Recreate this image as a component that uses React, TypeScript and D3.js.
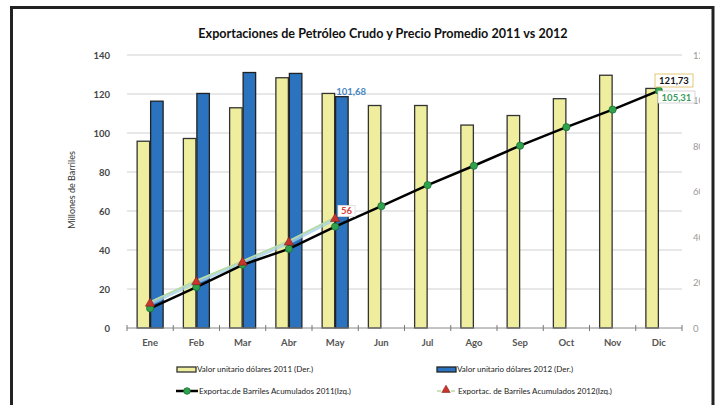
import React from "react";
import * as d3 from "d3";

const months = ["Ene", "Feb", "Mar", "Abr", "May", "Jun", "Jul", "Ago", "Sep", "Oct", "Nov", "Dic"];
const price2011 = [82.1, 83.3, 96.8, 110, 103.1, 97.8, 97.8, 89.2, 93.4, 100.8, 111.1, 105.31];
const price2012 = [99.7, 103.1, 112.3, 111.9, 101.68];
const cum2011 = [10.1, 21, 32.4, 40.6, 52, 62.5, 73.3, 83.2, 93.5, 103, 112, 121.73];
const cum2012 = [12.6, 23.6, 33.6, 43.9, 56];
const leftTicks = [0, 20, 40, 60, 80, 100, 120, 140];
const rightTicks = [0, 20, 40, 60, 80, 100, 120];

const title = "Exportaciones de Petróleo Crudo y Precio Promedio 2011 vs 2012";
const yTitle = "Millones de Barriles";
const legendLabels = [
  "Valor unitario dólares 2011 (Der.)",
  "Valor unitario dólares 2012 (Der.)",
  "Exportac.de Barriles Acumulados 2011(Izq.)",
  "Exportac. de Barriles Acumulados 2012(Izq.)",
];

const FONT = 'Lato, "Open Sans", sans-serif';

export default function App() {
  const W = 718, H = 405;
  const x = d3.scaleBand<string>().domain(months).range([127, 682]).padding(0);
  const yL = d3.scaleLinear().domain([0, 140]).range([328, 55]);
  const yR = d3.scaleLinear().domain([0, 120]).range([328, 55]);
  const cx = (m: string) => (x(m) as number) + x.bandwidth() / 2;
  const bw = 12.5;

  const line2011 = d3.line<number>().x((_, i) => cx(months[i])).y((d) => yL(d));
  const line2012 = d3.line<number>().x((_, i) => cx(months[i])).y((d) => yL(d));

  const tri = d3.symbol().type(d3.symbolTriangle).size(38)() as string;
  const triSmall = d3.symbol().type(d3.symbolTriangle).size(30)() as string;

  const may = 4;

  return (
    <svg width={W} height={H} style={{ position: "absolute", left: 0, top: 0, background: "#fff" }} fontFamily={FONT}>
      <defs>
        <clipPath id="rclip">
          <rect x={0} y={0} width={700} height={H} />
        </clipPath>
      </defs>
      <rect x={0} y={0} width={W} height={H} fill="#fff" />
      <path d={`M11.5,${H + 5} V7.5 H713 V${H + 5}`} fill="none" stroke="#222" strokeWidth={3} />

      <text x={383} y={38} textAnchor="middle" fontSize={12.6} fontWeight={700} fill="#111">{title}</text>

      {leftTicks.filter((t) => t > 0).map((t) => (
        <line key={"g" + t} x1={127} x2={682} y1={yL(t)} y2={yL(t)} stroke="#d0d0d0" strokeWidth={1} />
      ))}

      {leftTicks.map((t) => (
        <text key={"l" + t} x={110} y={yL(t) + 3.5} textAnchor="end" fontSize={9.5} fontWeight={700} fill="#444">{t}</text>
      ))}
      <g clipPath="url(#rclip)">
        {rightTicks.map((t) => (
          <text key={"r" + t} x={693} y={yR(t) + 3.5} textAnchor="start" fontSize={9.5} fill="#999">{t}</text>
        ))}
      </g>

      <text transform={`translate(75,190) rotate(-90)`} textAnchor="middle" fontSize={9} fill="#333">{yTitle}</text>

      {price2011.map((v, i) => (
        <rect key={"b1" + i} x={cx(months[i]) - 13} y={yR(v)} width={bw} height={yR(0) - yR(v)}
          fill="#eeee9e" stroke="#333" strokeWidth={1.3} />
      ))}
      {price2012.map((v, i) => (
        <rect key={"b2" + i} x={cx(months[i]) + 0.5} y={yR(v)} width={bw} height={yR(0) - yR(v)}
          fill="#2b73bf" stroke="#222" strokeWidth={1.3} />
      ))}

      <line x1={127} x2={682} y1={328} y2={328} stroke="#888" strokeWidth={1} />
      {d3.range(months.length + 1).map((i) => {
        const xx = 127 + i * x.bandwidth();
        return <line key={"t" + i} x1={xx} x2={xx} y1={325} y2={331} stroke="#777" strokeWidth={1} />;
      })}
      {months.map((m) => (
        <text key={"x" + m} x={cx(m)} y={346} textAnchor="middle" fontSize={9.5} fontWeight={700} fill="#555">{m}</text>
      ))}

      <path d={line2012(cum2012) as string} fill="none" stroke="#a6d3e8" strokeWidth={4} opacity={0.8} />
      <path d={line2012(cum2012) as string} transform="translate(0,-1.5)" fill="none" stroke="#b9dca0" strokeWidth={1.6} />

      <path d={line2011(cum2011) as string} fill="none" stroke="#000" strokeWidth={2.5} />
      {cum2011.map((v, i) => (
        <circle key={"c" + i} cx={cx(months[i])} cy={yL(v)} r={3.6} fill="#2fa24e" stroke="#1d6e33" strokeWidth={0.8} />
      ))}
      {cum2012.map((v, i) => (
        <path key={"tr" + i} d={tri} transform={`translate(${cx(months[i])},${yL(v)})`} fill="#c9352b" stroke="#7a1e18" strokeWidth={0.6} />
      ))}

      <text x={cx(months[may]) + 1} y={95} fontSize={9.5} fontWeight={700} fill="#4a86c5">101,68</text>
      <rect x={338} y={205.5} width={17} height={11} fill="#fff" stroke="#ddd" strokeWidth={0.8} />
      <text x={346.5} y={214} textAnchor="middle" fontSize={9.5} fontWeight={700} fill="#d9453a">56</text>
      <rect x={655} y={74} width={38} height={13} fill="#fff" stroke="#e3c77a" strokeWidth={1} />
      <text x={674} y={84} textAnchor="middle" fontSize={9.5} fontWeight={700} fill="#111">121,73</text>
      <rect x={658} y={91} width={37} height={12} fill="#fff" stroke="#ccc" strokeWidth={0.8} />
      <text x={676.5} y={100.5} textAnchor="middle" fontSize={9.5} fontWeight={700} fill="#3a9a5a">105,31</text>

      <rect x={177} y={367} width={19} height={5} fill="#eeee9e" stroke="#333" strokeWidth={1.3} />
      <text x={197} y={372} fontSize={8} fill="#222">{legendLabels[0]}</text>
      <rect x={437} y={367} width={19} height={5} fill="#2b73bf" stroke="#222" strokeWidth={1.3} />
      <text x={457} y={372} fontSize={8} fill="#222">{legendLabels[1]}</text>
      <line x1={176} x2={198} y1={391} y2={391} stroke="#000" strokeWidth={2.5} />
      <circle cx={187} cy={391} r={3.3} fill="#2fa24e" stroke="#1d6e33" strokeWidth={0.8} />
      <text x={199} y={394} fontSize={8} fill="#222">{legendLabels[2]}</text>
      <line x1={437} x2={456} y1={391} y2={391} stroke="#b9dca0" strokeWidth={1.5} strokeDasharray="4,3" />
      <path d={triSmall} transform="translate(446,390)" fill="#c9352b" stroke="#7a1e18" strokeWidth={0.6} />
      <text x={458} y={394} fontSize={8} fill="#222">{legendLabels[3]}</text>
    </svg>
  );
}
